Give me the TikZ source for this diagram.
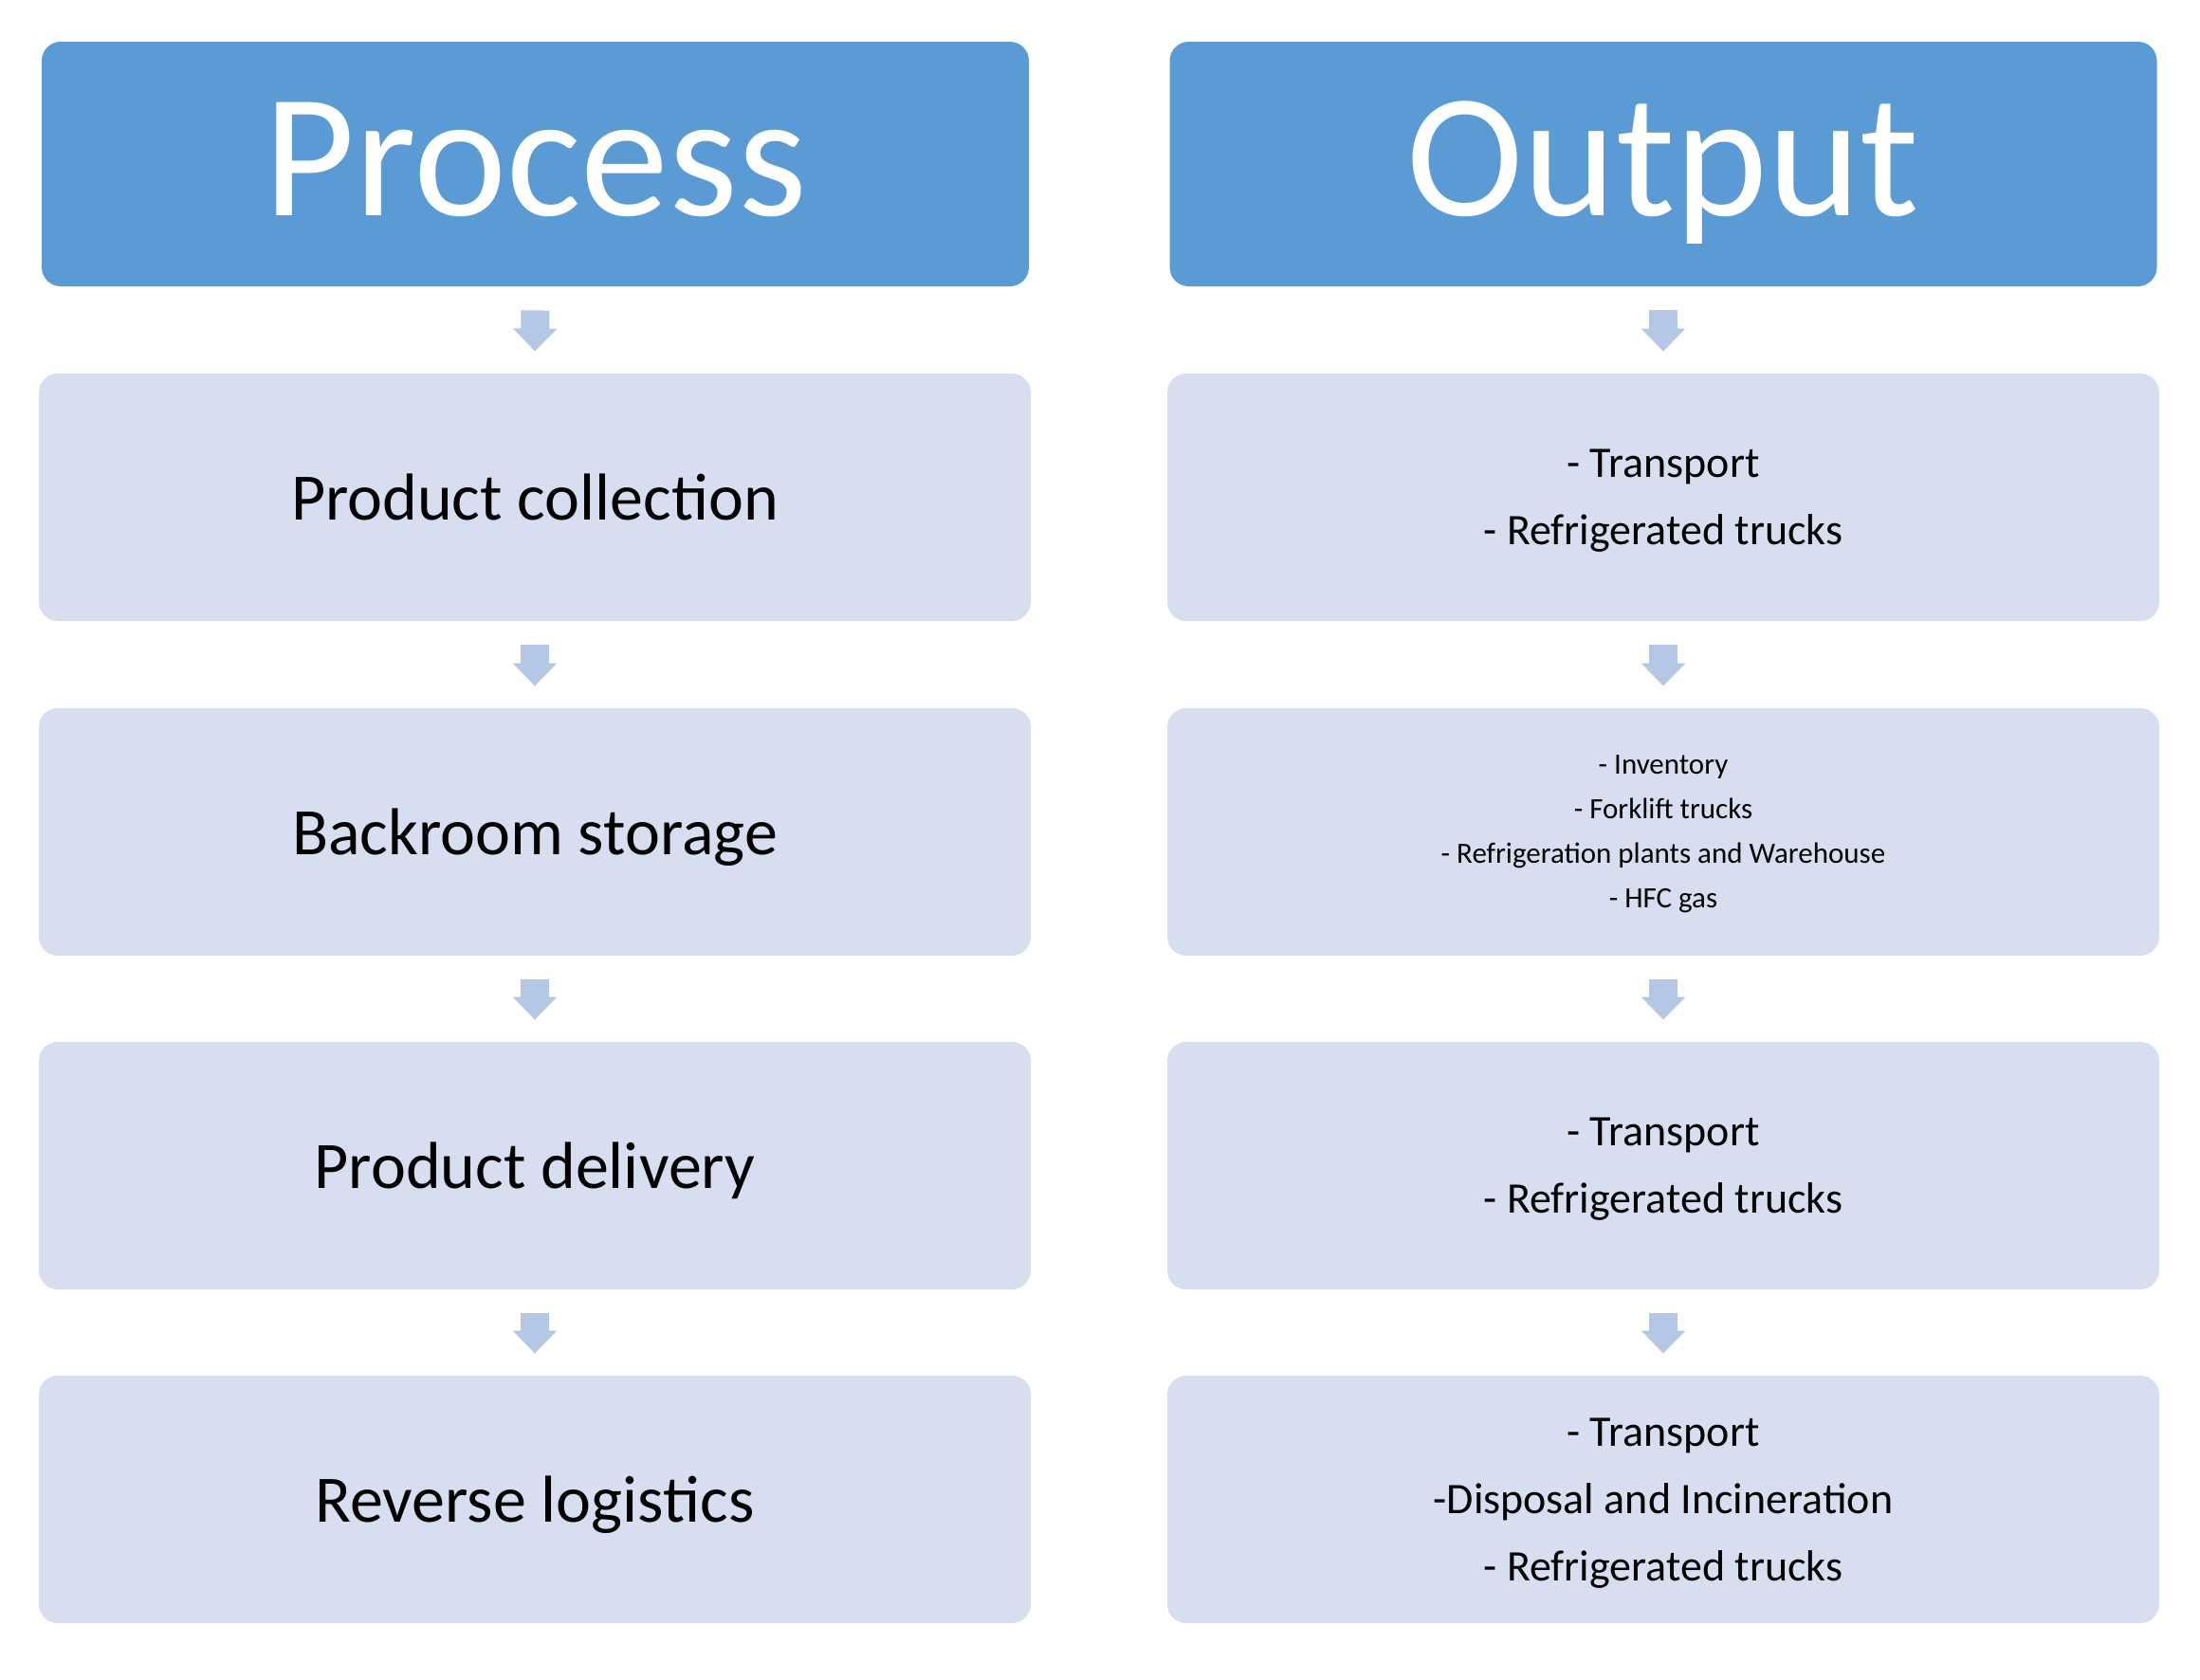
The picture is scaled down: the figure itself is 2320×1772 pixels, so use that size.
\documentclass[tikz,border=0pt]{standalone}
\usepackage{fontspec}
\setmainfont{Carlito}
\usetikzlibrary{arrows.meta}
\definecolor{hdrblue}{HTML}{5B9BD5}
\definecolor{boxfill}{HTML}{D6DEEF}
\definecolor{arrfill}{HTML}{B4C7E7}
\tikzset{
  hdr/.style={fill=hdrblue, draw=none, rounded corners=10pt, minimum width=520.5pt, minimum height=129pt,
    text=white, font=\fontsize{93pt}{100pt}\selectfont, text depth=0pt, text height=54pt, inner sep=0pt},
  pbox/.style={fill=boxfill, draw=none, rounded corners=10pt, minimum width=523pt, minimum height=130.5pt,
    inner sep=0pt, align=center, text depth=0pt},
  big/.style={font=\fontsize{35pt}{42pt}\selectfont},
  mid/.style={font=\fontsize{23pt}{35.5pt}\selectfont},
  small/.style={font=\fontsize{15.5pt}{23.5pt}\selectfont},
  blkarrow/.style={draw=arrfill, line width=15pt, -{Triangle[width=22.5pt, length=12pt]}}
}
\begin{document}
\begin{tikzpicture}[x=0.5pt,y=-0.5pt]
\useasboundingbox[fill=white] (0,0) rectangle (2320,1772);
% headers
\node[hdr] (h1) at (564.5,173) {Process};
\node[hdr] (h2) at (1754,173) {Output};
% left column
\node[pbox,big] (l1) at (564,524.5) {Product collection};
\node[pbox,big] (l2) at (564,877.5) {Backroom storage};
\node[pbox,big] (l3) at (564,1229.5) {Product delivery};
\node[pbox,big] (l4) at (564,1581.5) {Reverse logistics};
% right column
\node[pbox,mid] (r1) at (1754,524.5) {- Transport\\- Refrigerated trucks};
\node[pbox,small] (r2) at (1754,877.5) {- Inventory\\- Forklift trucks\\- Refrigeration plants and Warehouse\\- HFC gas};
\node[pbox,mid] (r3) at (1754,1229.5) {- Transport\\- Refrigerated trucks};
\node[pbox,mid] (r4) at (1754,1581.5) {- Transport\\-Disposal and Incineration\\- Refrigerated trucks};
% arrows
\foreach \a/\b in {h1/l1,l1/l2,l2/l3,l3/l4,h2/r1,r1/r2,r2/r3,r3/r4}{
  \draw[blkarrow] ([yshift=-12.5pt]\a.south) -- ([yshift=11.5pt]\b.north);
}
\end{tikzpicture}
\end{document}
